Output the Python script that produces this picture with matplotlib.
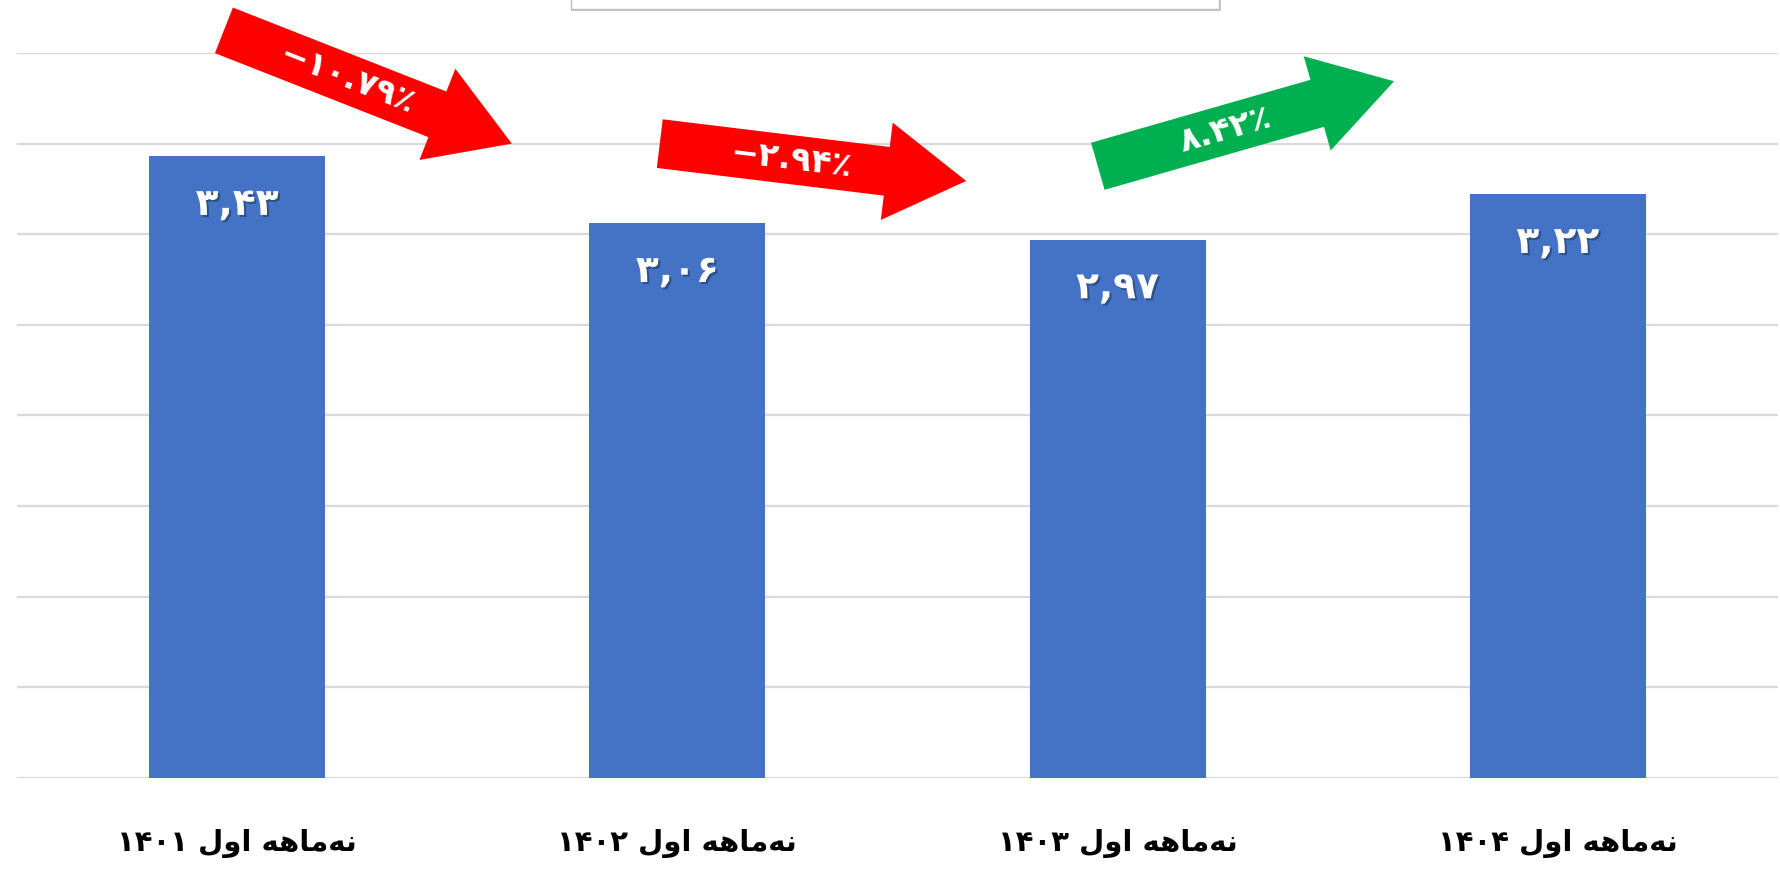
import numpy as np
import matplotlib
matplotlib.use("Agg")
import matplotlib.pyplot as plt
import matplotlib.patheffects as pe
from matplotlib.patches import FancyArrowPatch, ArrowStyle, Rectangle

# matplotlib does no Arabic shaping / bidi, so the label prefix is written
# in visual (left-to-right) order with Arabic presentation forms:
# "نه‌ماهه اول" -> ل و ا  |  ه ه ا م ه ن
prefix = "\uFEDD\uFEED\uFE8D \uFEEA\uFEEB\uFE8E\uFEE3\uFEEA\uFEE7"
years = ["۱۴۰۱", "۱۴۰۲", "۱۴۰۳", "۱۴۰۴"]
values = [3.43, 3.06, 2.97, 3.22]
value_labels = ["۳,۴۳", "۳,۰۶", "۲,۹۷", "۳,۲۲"]
changes = ["−۱۰.۷۹٪", "−۲.۹۴٪", "۸.۴۲٪"]
change_colors = ["#FF0000", "#FF0000", "#00B050"]

# arrow tail / tip, in data units (x = category position, y = value)
arrow_tails = [(-0.03, 4.125), (0.96, 3.50), (1.955, 3.375)]
arrow_tips = [(0.624, 3.50), (1.656, 3.294), (2.628, 3.844)]

cat_labels = [y + " " + prefix for y in years]

fig = plt.figure(figsize=(17.81, 8.72), dpi=100)
ax = fig.add_axes([17 / 1781, 94 / 872, 1761 / 1781, 725 / 872])

x = np.arange(len(values))
ax.bar(x, values, width=0.4, color="#4472C4", zorder=2)

ax.set_xlim(-0.5, 3.5)
ax.set_ylim(0, 4.0)
ax.set_yticks(np.arange(0, 4.01, 0.5))
ax.yaxis.grid(True, color="#D9D9D9", lw=1.6, zorder=0)
ax.set_axisbelow(True)
ax.tick_params(axis="y", left=False, labelleft=False)
ax.tick_params(axis="x", length=0, pad=37)
ax.set_xticks(x)
ax.set_xticklabels(cat_labels, fontsize=21, fontweight="bold", family="DejaVu Sans")
for s in ax.spines.values():
    s.set_visible(False)

# value labels inside bars, white with a soft shadow
shadow = [pe.withSimplePatchShadow(offset=(1.5, -1.5), shadow_rgbFace="#1F3864", alpha=0.6)]
for xi, v, lab in zip(x, values, value_labels):
    ax.annotate(lab, (xi, v), xytext=(0, -35), textcoords="offset points",
                ha="center", va="center", color="white", fontsize=27,
                fontweight="bold", path_effects=shadow, zorder=4)

# change arrows between bars
px_to_pt = 72 / fig.dpi
style = ArrowStyle.Simple(head_length=80 * px_to_pt, head_width=98 * px_to_pt,
                          tail_width=49 * px_to_pt)
for tail, tip, txt, col in zip(arrow_tails, arrow_tips, changes, change_colors):
    arr = FancyArrowPatch(tail, tip, arrowstyle=style, mutation_scale=1,
                          color=col, lw=0, shrinkA=0, shrinkB=0,
                          clip_on=False, zorder=5)
    ax.add_patch(arr)
    p0 = ax.transData.transform(tail)
    p1 = ax.transData.transform(tip)
    ang = np.degrees(np.arctan2(p1[1] - p0[1], p1[0] - p0[0]))
    mid = p0 + 0.43 * (p1 - p0)
    mx, my = ax.transData.inverted().transform(mid)
    ax.text(mx, my, txt, rotation=ang, rotation_mode="anchor",
            ha="center", va="center", color="white", fontsize=24,
            fontweight="bold", clip_on=False, zorder=6)

# empty title box cut off at the top edge
fig.patches.append(Rectangle((571 / 1781, 1 - 11 / 872), 650 / 1781, 0.05,
                             transform=fig.transFigure, facecolor="#C8C8C8",
                             edgecolor="none", zorder=0))
fig.patches.append(Rectangle((571 / 1781, 1 - 9 / 872), 648 / 1781, 0.05,
                             transform=fig.transFigure, facecolor="white",
                             edgecolor="#BFBFBF", lw=1, zorder=1))

fig.savefig("out.png", dpi=100)
